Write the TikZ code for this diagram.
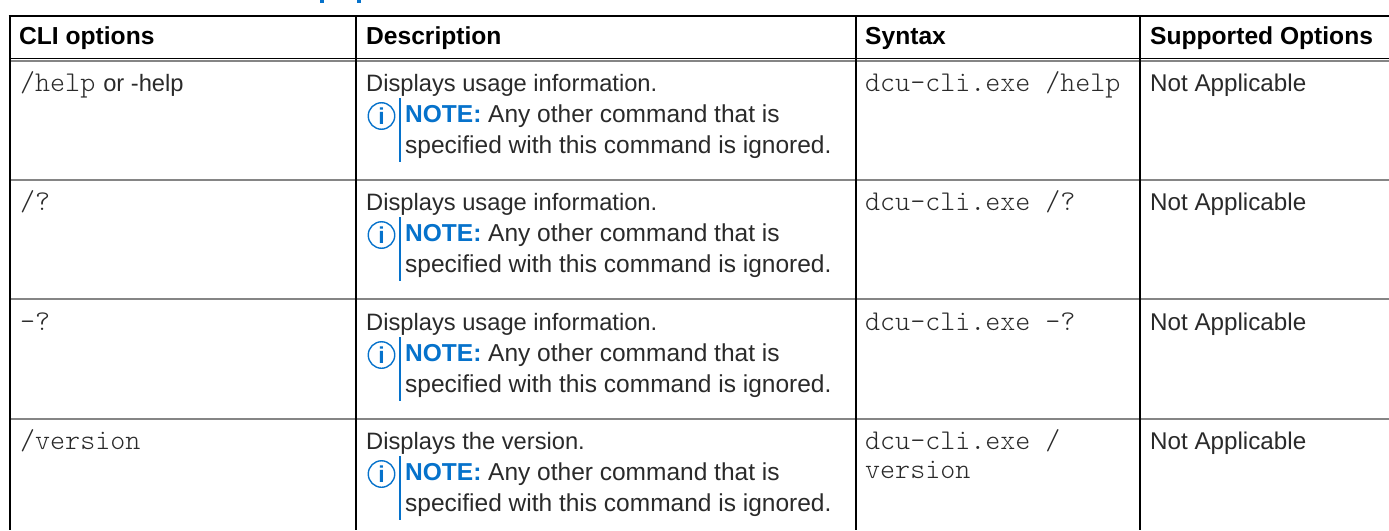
\documentclass[tikz,border=0pt]{standalone}
\usepackage{fontspec}
\setmainfont{Liberation Sans}
\setmonofont{Latin Modern Mono Light}
\definecolor{bluenote}{HTML}{0672CB}
\definecolor{txt}{HTML}{2A2A2A}
\definecolor{rule}{HTML}{858585}
\newcommand{\bodyfont}{\fontsize{23.7}{30}\selectfont}
\newcommand{\notefont}{\fontsize{24.5}{30}\selectfont}
\newcommand{\optfont}{\fontsize{24.2}{30}\selectfont}
\newcommand{\headfont}{\fontsize{24.6}{30}\selectfont\bfseries}
\newcommand{\codefont}{\fontsize{28.6}{30}\selectfont\ttfamily}
\tikzset{
  celltext/.style={anchor=base west,inner sep=0pt,text=txt,font=\bodyfont},
  notetext/.style={anchor=base west,inner sep=0pt,text=txt,font=\notefont},
  opttext/.style={anchor=base west,inner sep=0pt,text=txt,font=\optfont},
  headtext/.style={anchor=base west,inner sep=0pt,text=black,font=\headfont},
  monotext/.style={anchor=base west,inner sep=0pt,text=txt,font=\codefont},
  hrule/.style={draw=rule,line width=2pt},
  vrule/.style={draw=black,line width=2pt},
  noterule/.style={draw=bluenote,line width=2.4pt},
  noteicon/.style={circle,draw=bluenote,line width=1.4pt,minimum size=26.5pt,inner sep=0pt,text=bluenote,font=\fontsize{23}{23}\selectfont\bfseries},
  tick/.style={draw=bluenote,line width=4pt},
}
\begin{document}
\begin{tikzpicture}[x=1pt,y=-1pt]
\useasboundingbox[fill=white] (0,0) rectangle (1389,530);
% cut-off strokes of a heading above the table
\draw[tick] (322,0) -- (322,3);
\draw[tick] (359,0) -- (359,3);
% table rules
\draw[draw=black,line width=2pt] (8.5,16) -- (1389,16);
\draw[draw=black,line width=1.2pt] (9,58.5) -- (1389,58.5);
\draw[draw=rule,line width=1.2pt] (9,61) -- (1389,61);
\foreach \y in {179.5,299,418.5}{\draw[hrule] (9,\y) -- (1389,\y);}
\foreach \x in {9.5,356,856,1140}{\draw[vrule] (\x,16) -- (\x,530);}
% header
\node[headtext] (h1) at (19,44) {CLI options};
\node[headtext] (h2) at (366,44) {Description};
\node[headtext] (h3) at (865,44) {Syntax};
\node[headtext] (h4) at (1150,44) {Supported Options};
% rows
\foreach \id/\y/\d in {r1/91/usage information.,r2/210/usage information.,r3/330/usage information.,r4/449/the version.}{
  \node[celltext] (\id d) at (366,\y) {Displays \d};
  \node[noteicon] (\id i) at (381.5,\y+25) {i};
  \draw[noterule] (400,\y+7) coordinate (\id t) -- (400,\y+71) coordinate (\id b);
  \node[notetext] (\id n) at (405,\y+31) {\textcolor{bluenote}{\textbf{NOTE:}} Any other command that is};
  \node[notetext] (\id s) at (405,\y+62.5) {specified with this command is ignored.};
  \node[opttext] (\id o) at (1150,\y) {Not Applicable};
}
\node[monotext] (c1) at (20,91) {/help\hspace{8pt}{\rmfamily\bodyfont or -help}};
\node[monotext] (c2) at (20,210) {/?};
\node[monotext] (c3) at (20,330) {-?};
\node[monotext] (c4) at (20,449) {/version};
\node[monotext] (s1) at (865,91) {dcu-cli.exe /help};
\node[monotext] (s2) at (865,210) {dcu-cli.exe /?};
\node[monotext] (s3) at (865,330) {dcu-cli.exe -?};
\node[monotext] (s4) at (865,449) {dcu-cli.exe /};
\node[monotext] (s5) at (865,478) {version};
\end{tikzpicture}
\end{document}
